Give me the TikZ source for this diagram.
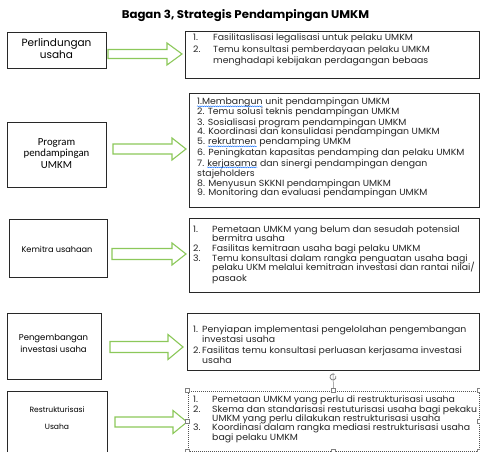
\documentclass[tikz,border=0pt]{standalone}
\usepackage{fontspec}
\setmainfont{Poppins}
\newfontfamily\calib{Carlito}
\newfontfamily\wide[FakeStretch=1.05]{Poppins}
\usetikzlibrary{calc,decorations.pathmorphing}
\definecolor{arrgreen}{RGB}{140,200,90}
\definecolor{edge}{RGB}{40,40,40}
\tikzset{
  lbox/.style={draw=edge, line width=0.9pt, inner sep=0pt},
  rbox/.style={draw=edge, line width=0.9pt, inner sep=0pt},
  selbox/.style={draw=edge!80, line width=0.7pt, dash pattern=on 1pt off 1pt, inner sep=0pt},
  barrowstyle/.style={draw=arrgreen, line width=1.1pt, fill=white, line join=miter},
  lbl/.style={align=center, inner sep=0pt},
  txt/.style={inner sep=0pt, anchor=base west, font=\wide\fontsize{8.9}{10}\selectfont, text=black!85},
  titlestyle/.style={inner sep=0pt, font=\wide\fontsize{11.2}{12}\selectfont\bfseries},
  handle/.style={draw=gray, fill=white, line width=0.5pt, minimum size=4pt, inner sep=0pt},
  wavyline/.style={draw=blue!60!cyan, line width=0.4pt, decorate, decoration={snake, amplitude=0.45pt, segment length=2.2pt}}
}
\newcounter{ln}
\newcommand{\tl}[3]{\stepcounter{ln}\node[txt] (ln\theln) at (#1,#2) {#3};}
% block arrow between two named coordinates: shaft half, head half, head length
\newcommand{\barrow}[5]{\draw[barrowstyle] let \p1=(#1), \p2=(#2) in
  (\x1,\y1+#3pt) -- (\x2-#5pt,\y1+#3pt) -- (\x2-#5pt,\y1+#4pt) -- (\x2,\y1)
  -- (\x2-#5pt,\y1-#4pt) -- (\x2-#5pt,\y1-#3pt) -- (\x1,\y1-#3pt) -- cycle;}
\begin{document}
\begin{tikzpicture}[x=1pt,y=-1pt]
\useasboundingbox (0,0) rectangle (480,452);
\fill[white] (0,0) rectangle (480,452);

\node[titlestyle] (title) at (245.5,16) {Bagan 3, Strategis Pendampingan UMKM};

% left boxes
\node[lbox, minimum width=99pt, minimum height=36pt] (L1) at (56.5,50) {};
\node[lbl, font=\fontsize{10.5}{12}\selectfont] (T1) at (56.5,49) {Perlindungan\\usaha};
\node[lbox, minimum width=99pt, minimum height=65pt] (L2) at (56.5,154.5) {};
\node[lbl, font=\calib\fontsize{10.8}{11.7}\selectfont] (T2) at (56.5,153.5) {Program\\pendampingan\\UMKM};
\node[lbox, minimum width=98pt, minimum height=58pt] (L3) at (58,248) {};
\node[lbl, font=\fontsize{8.2}{10}\selectfont] (T3) at (57,249) {Kemitra usahaan};
\node[lbox, minimum width=94pt, minimum height=66pt] (L4) at (54,346) {};
\node[lbl, font=\fontsize{8.5}{12}\selectfont] (T4) at (53.5,343) {Pengembangan\\investasi usaha};
\node[lbox, minimum width=100pt, minimum height=66pt] (L5) at (57,424) {};
\node[lbl, font=\fontsize{7.6}{17}\selectfont] (T5) at (57,418.5) {Restrukturisasi\\Usaha};

% right boxes
\node[rbox, minimum width=294.5pt, minimum height=47pt] (R1) at (332.25,54.5) {};
\node[rbox, minimum width=290.5pt, minimum height=114pt] (R2) at (334.25,150) {};
\node[rbox, minimum width=290.5pt, minimum height=74pt] (R3) at (334.25,255) {};
\node[rbox, minimum width=292.5pt, minimum height=57pt] (R4) at (333.25,341.5) {};
\node[selbox, minimum width=291pt, minimum height=60pt] (R5) at (333.5,421) {};

% arrows
\coordinate (a1s) at (108,54);  \coordinate (a1e) at (182,54);
\coordinate (a2s) at (113,149); \coordinate (a2e) at (186,149);
\coordinate (a3s) at (112,254); \coordinate (a3e) at (186,254);
\coordinate (a4s) at (110,347); \coordinate (a4e) at (183,347);
\coordinate (a5s) at (115,422); \coordinate (a5e) at (187,422);
\barrow{a1s}{a1e}{4.5}{11}{15}
\barrow{a2s}{a2e}{5}{11}{14}
\barrow{a3s}{a3e}{5.5}{11}{14}
\barrow{a4s}{a4e}{5.5}{12.5}{15}
\barrow{a5s}{a5e}{5}{11.5}{14}

% box 1 text
\tl{193}{41}{1.}\tl{213}{41}{Fasilitaslisasi legalisasi untuk pelaku UMKM}
\tl{193}{53}{2.}\tl{213}{53}{Temu konsultasi pemberdayaan pelaku UMKM}
\tl{213}{63.5}{menghadapi kebijakan perdagangan bebaas}

% box 2 text
\node[txt] (m1) at (197,105) {1.Membangun};
\node[txt] (m1r) at (m1.base east) {~unit pendampingan UMKM};
\draw[wavyline] ([yshift=-1.3pt]m1.base west) -- ([yshift=-1.3pt]m1.base east);
\tl{197}{115}{2. Temu solusi teknis pendampingan UMKM}
\tl{197}{125}{3. Sosialisasi program pendampingan UMKM}
\tl{197}{135}{4. Koordinasi dan konsulidasi pendampingan UMKM}
\node[txt] (m5) at (197,145) {5.};
\node[txt] (m5w) at ([xshift=2.6pt]m5.base east) {rekrutmen};
\node[txt] (m5r) at (m5w.base east) {~pendamping UMKM};
\draw[wavyline] ([yshift=-1.3pt]m5w.base west) -- ([yshift=-1.3pt]m5w.base east);
\tl{197}{156}{6. Peningkatan kapasitas pendamping dan pelaku UMKM}
\node[txt] (m7) at (197,166) {7.};
\node[txt] (m7w) at ([xshift=2.6pt]m7.base east) {kerjasama};
\node[txt] (m7r) at (m7w.base east) {~dan sinergi pendampingan dengan};
\draw[wavyline] ([yshift=-1.3pt]m7w.base west) -- ([yshift=-1.3pt]m7w.base east);
\tl{197}{176}{stajeholders}
\tl{197}{186}{8. Menyusun SKKNI pendampingan UMKM}
\tl{197}{196}{9. Monitoring dan evaluasi pendampingan UMKM}

% box 3 text
\tl{193}{232}{1.}\tl{212}{232}{Pemetaan UMKM yang belum dan sesudah potensial}
\tl{212}{241.5}{bermitra usaha}
\tl{193}{251}{2.}\tl{212}{251}{Fasilitas kemitraan usaha bagi pelaku UMKM}
\tl{193}{261}{3.}\tl{212}{261}{Temu konsultasi dalam rangka penguatan usaha bagi}
\tl{212}{270.5}{pelaku UKM melalui kemitraan investasi dan rantai nilai/}
\tl{212}{281}{pasaok}

% box 4 text
\tl{193}{332}{1.}\tl{202}{332}{Penyiapan implementasi pengelolahan pengembangan}
\tl{202}{342}{investasi usaha}
\tl{193}{353}{2.}\tl{202}{353}{Fasilitas temu konsultasi perluasan kerjasama investasi}
\tl{202}{363}{usaha}

% box 5 text
\tl{193}{402}{1.}\tl{212}{402}{Pemetaan UMKM yang perlu di restrukturisasi usaha}
\tl{193}{412}{2.}\tl{212}{412}{Skema dan standarisasi restuturisasi usaha bagi pekaku}
\tl{212}{421}{UMKM yang perlu dilakukan restrukturisasi usaha}
\tl{193}{430.5}{3.}\tl{212}{430.5}{Koordinasi dalam rangka mediasi restrukturisasi usaha}
\tl{212}{440}{bagi pelaku UMKM}

% selection handles
\coordinate (rot) at (333,377);
\draw[gray, line width=0.5pt] (R5.north) -- ([yshift=4pt]rot);
\draw[gray, line width=0.8pt] ([shift={(60:3pt)}]rot) arc[start angle=60, end angle=380, radius=3pt];
\foreach \a/\n in {north west/h1, north/h2, north east/h3, west/h4, east/h5, south west/h6, south/h7, south east/h8}
  \node[handle] (\n) at (R5.\a) {};
\end{tikzpicture}
\end{document}
